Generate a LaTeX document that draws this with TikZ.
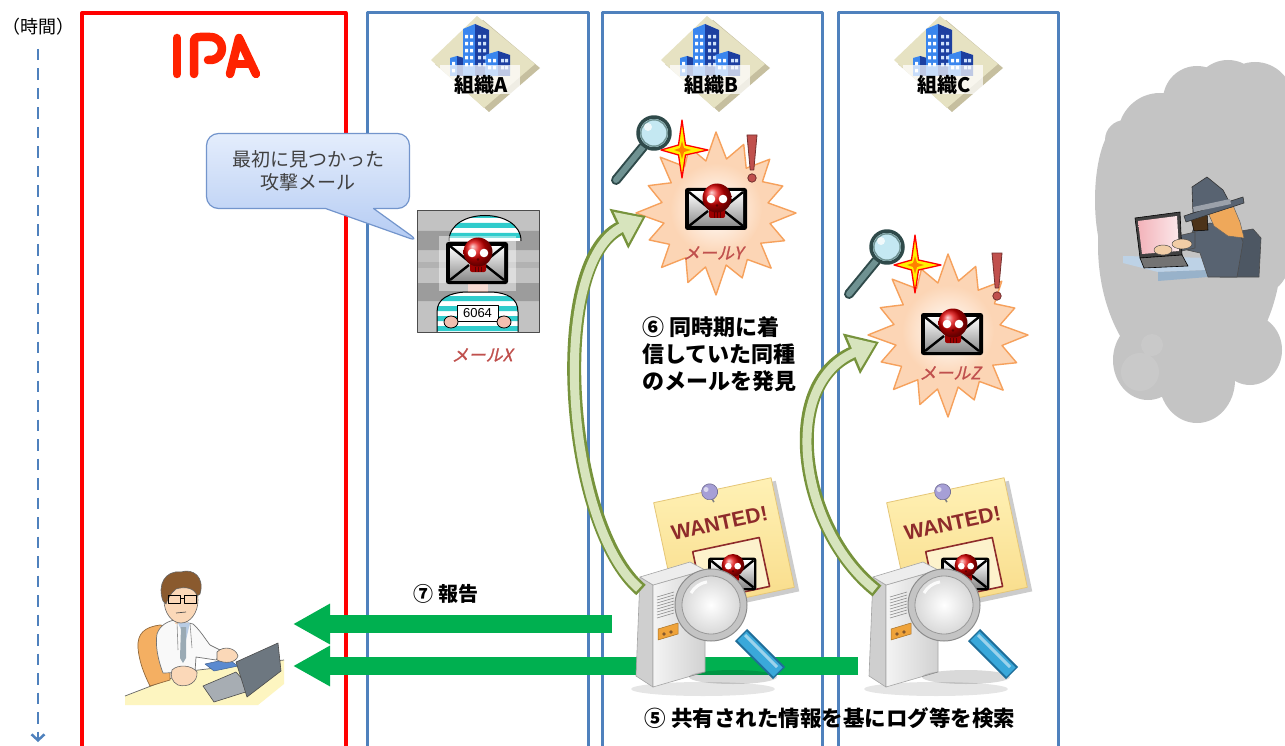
\documentclass[tikz,border=0pt]{standalone}
\usepackage{fontspec}
\newfontfamily\jp{Noto Sans CJK JP}
\newfontfamily\jpit{Noto Sans CJK JP}[FakeSlant=0.22,FakeBold=1.2]
\newfontfamily\lsans{Liberation Sans}
\usetikzlibrary{arrows.meta,shapes.callouts}
\newcommand\jsize[2]{\fontsize{#1}{#2}\selectfont}

\definecolor{ipared}{HTML}{FF0000}
\definecolor{logored}{HTML}{FF2200}
\definecolor{lane}{HTML}{4F81BD}
\definecolor{repgreen}{HTML}{00B050}
\definecolor{olivebd}{HTML}{77933C}
\definecolor{olivefill}{HTML}{D7E4BD}
\definecolor{peach}{HTML}{FCD5B5}
\definecolor{burst}{HTML}{F6A15C}
\definecolor{mailred}{HTML}{C0504D}
\definecolor{skullred}{HTML}{E00000}
\definecolor{exred}{HTML}{C0504D}
\definecolor{cloudgray}{HTML}{C4C4C4}
\definecolor{bubbletop}{HTML}{E4EDFC}
\definecolor{bubblebot}{HTML}{B4CBF3}
\definecolor{bubbleline}{HTML}{7395CC}
\definecolor{diamondbeige}{HTML}{E6E2C2}
\definecolor{diamondshade}{HTML}{B3AA80}
\definecolor{bldlight}{HTML}{3A86EE}
\definecolor{blddark}{HTML}{1C3FA0}
\definecolor{magdark}{HTML}{2F4A4A}
\definecolor{maghandle}{HTML}{6F9292}
\definecolor{lensblue}{HTML}{C4E8F2}
\definecolor{posterA}{HTML}{FFF1B5}
\definecolor{posterB}{HTML}{F8DB88}
\definecolor{posterline}{HTML}{E5C677}
\definecolor{wantedred}{HTML}{8E2B2B}
\definecolor{framefill}{HTML}{FDF2CC}
\definecolor{pinpurple}{HTML}{A69FD6}
\definecolor{srvtop}{HTML}{EDEDED}
\definecolor{srvleft}{HTML}{CFCFCF}
\definecolor{srvfront}{HTML}{F4F4F4}
\definecolor{srvline}{HTML}{A5A5A5}
\definecolor{srvorange}{HTML}{EFA33A}
\definecolor{rimgray}{HTML}{C4C4C4}
\definecolor{handleblue}{HTML}{3AA8DA}
\definecolor{handledark}{HTML}{1F6E99}
\definecolor{deskyel}{HTML}{FDF5C0}
\definecolor{chairor}{HTML}{F4AF62}
\definecolor{coatwhite}{HTML}{F9F9F9}
\definecolor{skin}{HTML}{FBD8B8}
\definecolor{hairbrown}{HTML}{8A5A2E}
\definecolor{tiegray}{HTML}{9AAAB4}
\definecolor{shirtblue}{HTML}{B9CCE4}
\definecolor{padblue}{HTML}{5B8AD0}
\definecolor{lapgray}{HTML}{6D7780}
\definecolor{hkdesk}{HTML}{BDD2E6}
\definecolor{hkdeskfront}{HTML}{98B2CA}
\definecolor{hkscreen}{HTML}{F3B3BA}
\definecolor{hkcoat}{HTML}{586371}
\definecolor{hkchair}{HTML}{4D5763}
\definecolor{hkhair}{HTML}{EFA85A}
\definecolor{hkskin}{HTML}{F1CDA6}
\definecolor{stripecyan}{HTML}{30CCCC}
\definecolor{grayA}{HTML}{C2C2C2}
\definecolor{grayB}{HTML}{9C9C9C}
\definecolor{prisskin}{HTML}{F2BFB0}

\tikzset{
  lanebox/.style={lane, line width=3pt},
  iparect/.style={ipared, line width=3.3pt},
  greenarrow/.style={repgreen, line width=18pt, -{Triangle[length=37pt,width=38pt]}},
  curveout/.style={olivebd, line width=14pt, -{Triangle[length=30pt,width=42pt]}},
  curvein/.style={olivefill, line width=9pt, shorten >=3.5pt, shorten <=2.5pt, -{Triangle[length=24pt,width=33pt]}},
  bigtext/.style={font=\jp\bfseries\jsize{22}{22}, inner sep=0pt},
  maillabel/.style={font=\jpit\jsize{17}{17}, text=mailred},
  % envelope with a red skull on it, centred on the envelope
  skullmail/.pic={
    \fill[black, rounded corners=2.5pt] (-31,-21) rectangle (31,21);
    \shade[top color=white, bottom color=black!45] (-27,-17) rectangle (27,17);
    \draw[black, line width=2.4pt] (-27,-17) -- (0,5) -- (27,-17);
    \draw[black, line width=2.4pt] (-27,17) -- (-8,2) (27,17) -- (8,2);
    \fill[skullred!70!black, rounded corners=2pt] (-7,-3) rectangle (9,9);
    \shade[ball color=skullred] (1,-11) circle (14.5);
    \fill[white] (-5,-10) circle (4.3) (7,-10) circle (4.3);
    \fill[skullred!40!black] (1,-3.5) circle (1.4);
    \draw[skullred!40!black, line width=0.7pt] (-2,3.5) -- (-2,9) (1,3.5) -- (1,9) (4,3.5) -- (4,9);
  },
  starburst/.pic={
    \filldraw[fill=peach, draw=burst, line width=1.4pt]
      (0:80) -- (11:55) -- (22:74) -- (34:54) -- (45:78) -- (56:56) -- (68:70) -- (79:53)
      -- (90:82) -- (101:55) -- (112:75) -- (124:54) -- (135:77) -- (146:56) -- (158:72) -- (169:53)
      -- (180:80) -- (191:55) -- (202:73) -- (214:54) -- (225:79) -- (236:56) -- (248:71) -- (259:53)
      -- (270:81) -- (281:55) -- (292:74) -- (304:54) -- (315:76) -- (326:56) -- (338:72) -- (349:53) -- cycle;
    \shade[inner color=white, outer color=peach] (0,-4) circle (46);
  },
  magsmall/.pic={
    \draw[line width=10pt, magdark, line cap=round] (-11,14) -- (-38,47);
    \draw[line width=6pt, maghandle, line cap=round] (-11,14) -- (-38,47);
    \filldraw[fill=lensblue, draw=magdark, line width=3.5pt] (0,0) circle (16);
    \draw[maghandle, line width=1.4pt] (0,0) circle (13.2);
    \fill[white, opacity=0.75] (-6,-6) circle (4);
  },
  sparkle/.pic={
    \filldraw[fill=yellow, draw=red, line width=1.3pt]
      (0,-30) -- (3.5,-5) -- (26,0) -- (3.5,5) -- (0,28) -- (-3.5,5) -- (-21,0) -- (-3.5,-5) -- cycle;
    \fill[orange] (0,-9) -- (2,-2) -- (9,0) -- (2,2) -- (0,9) -- (-2,2) -- (-8,0) -- (-2,-2) -- cycle;
  },
  exclaim/.pic={
    \filldraw[fill=exred, draw=exred!60!black, line width=0.8pt] (-5,-23) -- (5,-23) -- (1.8,12) -- (-1.8,12) -- cycle;
    \filldraw[fill=exred, draw=exred!60!black, line width=0.8pt] (0,20) circle (4.2);
  },
  pics/building/.style={code={
    \fill[diamondshade, opacity=0.75] (2,-66) -- (59,-18) -- (8,26) -- (-46,-22) -- cycle;
    \fill[diamondbeige] (-4,-70) -- (54,-22) -- (3,22) -- (-50,-26) -- cycle;
    \fill[bldlight] (-31,-28) -- (-24,-30) -- (-24,-10) -- (-31,-10) -- cycle;
    \fill[blddark] (-24,-30) -- (-17,-28) -- (-17,-10) -- (-24,-10) -- cycle;
    \fill[bldlight] (-18,-57) -- (-6,-62) -- (-6,-10) -- (-18,-10) -- cycle;
    \fill[blddark] (-6,-62) -- (8,-56) -- (8,-10) -- (-6,-10) -- cycle;
    \fill[bldlight] (4,-31) -- (17,-35) -- (17,-10) -- (4,-10) -- cycle;
    \fill[blddark] (17,-35) -- (29,-31) -- (29,-10) -- (17,-10) -- cycle;
    \foreach \wy in {-51,-44,-37,-30,-23} {
      \fill[white] (-16,\wy) rectangle ++(3,3.5) (-11,\wy) rectangle ++(3,3.5);
      \fill[white!75!bldlight] (-3,\wy) rectangle ++(3,3.5) (2,\wy) rectangle ++(3,3.5);
    }
    \foreach \wy in {-27,-20} {
      \fill[white] (7,\wy) rectangle ++(3,3.5) (12,\wy) rectangle ++(3,3.5);
      \fill[white!75!bldlight] (20,\wy) rectangle ++(3,3.5) (24,\wy) rectangle ++(3,3.5);
    }
    \fill[white] (-29,-24) rectangle ++(3,3.5) (-29,-17) rectangle ++(3,3.5);
    \fill[white, opacity=0.72] (-41,-21) rectangle (39,8);
    \node[font=\jp\bfseries\jsize{20}{20}] (-label) at (0,-1) {#1};
  }},
  % note pinned to the wall, drawn around its centre
  poster/.pic={
    \fill[black, opacity=0.2] (-56,-52) rectangle (64,61);
    \shade[top color=posterA, bottom color=posterB] (-60,-56) rectangle (60,56);
    \draw[posterline, line width=0.8pt] (-60,-56) rectangle (60,56);
    \node[font=\lsans\bfseries\jsize{21}{21}, text=wantedred, transform shape, inner sep=1pt] (-title) at (0,-22) {WANTED!};
    \filldraw[fill=framefill, draw=wantedred, line width=1.6pt] (-32,0) rectangle (36,50);
    \pic[scale=0.78] at (2,30) {skullmail};
    \draw[black!50, line width=1.5pt] (-3,-52) -- (-1,-44);
    \filldraw[fill=pinpurple, draw=pinpurple!70!black, line width=0.6pt] (-3,-55) circle (8);
    \fill[white, opacity=0.6] (-6,-58) circle (2.5);
  },
  % server tower with a large magnifier, origin at the lens centre
  server/.pic={
    \fill[black, opacity=0.1] (-8,84) ellipse (72 and 7);
    \filldraw[fill=srvleft, draw=srvline, line width=0.6pt] (-71,-28) -- (-58,-20) -- (-58,82) -- (-75,71) -- cycle;
    \shade[left color=srvfront, right color=black!18] (-58,-20) -- (-6,-35) -- (-6,67) -- (-58,82) -- cycle;
    \draw[srvline, line width=0.6pt] (-58,-20) -- (-6,-35) -- (-6,67) -- (-58,82) -- cycle;
    \filldraw[fill=srvtop, draw=srvline, line width=0.6pt] (-71,-28) -- (-21,-43) -- (-6,-35) -- (-58,-20) -- cycle;
    \foreach \vy in {-8,-5,-2,1,4,7,10,13} {
      \draw[black!45, line width=0.6pt] (-54,\vy) -- (-37,\vy-5);
    }
    \filldraw[fill=srvorange, draw=srvorange!70!black, line width=0.5pt] (-53,24) -- (-33,18) -- (-33,29) -- (-53,35) -- cycle;
    \fill[brown!70!black] (-47,29) circle (1.8) (-40,27) circle (1.8);
    \fill[black, opacity=0.15] (22,72) ellipse (44 and 7);
    \draw[line width=17pt, handledark] (30,30) -- (68,68);
    \draw[line width=13pt, handleblue] (31,31) -- (67,67);
    \draw[line width=3pt, white, opacity=0.5] (34,30) -- (66,62);
    \filldraw[fill=rimgray, draw=black!45, line width=1pt] (0,0) circle (36);
    \shade[inner color=white, outer color=black!15] (0,0) circle (29);
    \draw[black!40, line width=0.8pt] (0,0) circle (29);
    \draw[white, line width=3pt, opacity=0.9] (-20,-12) arc[start angle=210, end angle=260, radius=23];
  }
}

\begin{document}
\begin{tikzpicture}[x=1pt, y=-1pt, line join=round]
\path[use as bounding box] (0,0) rectangle (1285,746);
\clip (0,0) rectangle (1285,746);
\fill[white] (0,0) rectangle (1285,746);

% ---------- attacker's cloud ----------
\fill[cloudgray] (1190,245) ellipse (92 and 140) (1160,135) circle (42) (1197,100) circle (34)
  (1228,95) circle (35) (1255,100) circle (38) (1270,200) ellipse (30 and 90)
  (1250,350) ellipse (32 and 35) (1197,380) ellipse (38 and 43) (1148,360) ellipse (35 and 40)
  (1120,200) ellipse (25 and 75) (1125,140) circle (20);
\fill[black!21] (1140,372) circle (19) (1152,345) circle (11);

% attacker at a laptop
\fill[hkdesk] (1123,256) -- (1212,258) -- (1208,270) -- (1158,272) -- (1123,263) -- cycle;
\fill[hkdeskfront] (1158,272) -- (1208,270) -- (1208,277) -- (1158,281) -- cycle;
\filldraw[fill=hkchair, draw=black!70, line width=0.6pt] (1217,235) -- (1253,229) -- (1261,238) -- (1259,277) -- (1220,277) -- cycle;
\filldraw[fill=hkcoat, draw=black!70, line width=0.6pt] (1193,230) -- (1210,223) -- (1237,228) -- (1243,242) -- (1237,277) -- (1208,277) -- (1200,253) -- (1187,250) -- cycle;
\filldraw[fill=hkcoat, draw=black!70, line width=0.6pt] (1173,237) -- (1195,232) -- (1195,248) -- (1177,252) -- cycle;
\filldraw[fill=black!75, draw=black, line width=0.6pt] (1135,218) -- (1180,212) -- (1182,255) -- (1140,258) -- cycle;
\shade[left color=hkscreen, right color=hkscreen!30] (1138,221) -- (1177,216) -- (1179,251) -- (1142,254) -- cycle;
\filldraw[fill=black!55, draw=black, line width=0.6pt] (1140,258) -- (1182,255) -- (1188,266) -- (1144,268) -- cycle;
\filldraw[fill=hkskin, draw=black!70, line width=0.5pt] (1163,250) ellipse (9 and 5) (1182,244) ellipse (10 and 5);
\filldraw[fill=hkhair, draw=black!60, line width=0.5pt] (1204,204) -- (1232,203) -- (1240,222) -- (1244,238) -- (1228,236) -- (1214,226) -- cycle;
\filldraw[fill=black!60!brown, draw=black, line width=0.5pt] (1190,214) -- (1207,212) -- (1208,230) -- (1194,231) -- cycle;
\filldraw[fill=hkcoat, draw=black!80, line width=0.6pt] (1192,187) -- (1207,177) -- (1223,190) -- (1232,207) -- (1193,215) -- cycle;
\filldraw[fill=hkcoat, draw=black!80, line width=0.6pt] (1184,216) -- (1243,197) -- (1244,203) -- (1186,222) -- cycle;
\fill[hkcoat!60!white] (1193,207) -- (1230,199) -- (1231,204) -- (1194,212) -- cycle;

% ---------- swimlanes ----------
\draw[iparect] (82,760) -- (82,13) -- (346,13) -- (346,760);
\draw[lanebox] (367,760) -- (367,13) -- (588,13) -- (588,760);
\draw[lanebox] (602,760) -- (602,13) -- (822,13) -- (822,760);
\draw[lanebox] (838,760) -- (838,13) -- (1058,13) -- (1058,760);

% IPA logotype
\begin{scope}[logored, line width=8.5pt, line cap=round, line join=round]
  \draw (177,38) -- (177,74);
  \draw (194,74) -- (194,42) .. controls (194,38) and (196,37) .. (200,37) -- (210,37)
        .. controls (226,37) and (226,60) .. (210,60) -- (208,60);
  \draw (230,74) -- (239,38) -- (256,74);
  \draw (237,64) -- (249,64);
\end{scope}

% time axis
\node[font=\jp\jsize{18}{18}] (timelbl) at (38,27) {（時間）};
\coordinate (tstart) at (38,49);
\coordinate (tend) at (38,742);
\draw[lane, line width=2.5pt, dash pattern=on 11.5pt off 8pt, -{Straight Barb[length=6pt,width=13pt]}] (tstart) -- (tend);

% organisations
\pic (orgA) at (481,86) {building={組織A}};
\pic (orgB) at (711,86) {building={組織B}};
\pic (orgC) at (944,86) {building={組織C}};

% ---------- organisation A: first attack mail ----------
\fill[grayA] (417,210) rectangle (539,332);
\fill[grayB] (417,231) rectangle (539,250) (417,283) rectangle (539,301);
\fill[black!30] (417,262) rectangle (539,268);
\begin{scope}
  \clip (449,241) .. controls (449,207) and (521,207) .. (521,241) -- cycle;
  \fill[white] (440,205) rectangle (530,245);
  \fill[stripecyan] (440,213) rectangle (530,218) (440,223) rectangle (530,228) (440,233) rectangle (530,238);
\end{scope}
\draw[black, line width=1pt] (449,241) .. controls (449,207) and (521,207) .. (521,241);
\fill[prisskin] (468,282) rectangle (488,294);
\begin{scope}
  \clip (437,332) -- (437,312) .. controls (437,298) and (450,293) .. (465,292) -- (492,292)
        .. controls (507,293) and (518,298) .. (518,312) -- (518,332) -- cycle;
  \fill[white] (430,288) rectangle (525,335);
  \fill[stripecyan] (430,296) rectangle (525,301) (430,306) rectangle (525,311) (430,316) rectangle (525,321) (430,326) rectangle (525,331);
\end{scope}
\draw[black, line width=1pt] (437,332) -- (437,312) .. controls (437,298) and (450,293) .. (465,292) -- (492,292)
        .. controls (507,293) and (518,298) .. (518,312) -- (518,332);
\fill[white, opacity=0.45] (439,236) rectangle (516,291);
\pic at (477,263) {skullmail};
\filldraw[fill=white, draw=black, line width=1pt] (457,305) rectangle (498,321);
\node[font=\lsans\jsize{13}{13}, inner sep=0pt] (tag) at (477.5,313.5) {6064};
\filldraw[fill=prisskin, draw=black, line width=0.8pt] (451,322) ellipse (7 and 6) (504,322) ellipse (7 and 6);
\draw[black!70, line width=0.8pt] (417,210) rectangle (539,332);
\node[maillabel] (labelX) at (482,355) {メールX};

\node[rectangle callout, callout absolute pointer={(420,242)}, callout pointer width=48pt,
      rounded corners=12pt, minimum width=203pt, minimum height=75pt,
      top color=bubbletop, bottom color=bubblebot, draw=bubbleline, line width=1.2pt,
      font=\jp\jsize{19}{23}, text=black!75, align=center] (bubble) at (308,171) {最初に見つかった\\攻撃メール};

% ---------- organisation B: mail Y ----------
\pic (burstY) at (716,213) {starburst};
\pic at (716,209) {skullmail};
\node[maillabel] (labelY) at (713,253) {メールY};
\pic at (654,133) {magsmall};
\pic at (682,150) {sparkle};
\pic at (752,158) {exclaim};
\coordinate (mailY) at (646,216);

\node[bigtext, anchor=west] (found1) at (642,327) {⑥ 同時期に着};
\node[bigtext, anchor=west] (found2) at (642,354) {信していた同種};
\node[bigtext, anchor=west] (found3) at (642,381) {のメールを発見};

% ---------- organisation C: mail Z ----------
\pic (burstZ) at (948,335) {starburst};
\pic at (952,334) {skullmail};
\node[maillabel] (labelZ) at (950,373) {メールZ};
\pic at (887,247) {magsmall};
\pic at (915,265) {sparkle};
\pic at (997,276) {exclaim};
\coordinate (mailZ) at (879,342);

% ---------- reports to IPA ----------
\coordinate (repB) at (612,624);
\coordinate (ipaB) at (293,624);
\coordinate (repC) at (858,666);
\coordinate (ipaC) at (293,666);
\draw[greenarrow] (repB) -- (ipaB);
\draw[greenarrow] (repC) -- (ipaC);
\node[font=\jp\bfseries\jsize{20}{20}] (report) at (446,594) {⑦ 報告};

% ---------- log searches ----------
\pic[rotate=12] (wantedB) at (724,545) {poster};
\pic[rotate=12] (wantedC) at (957,545) {poster};
\pic (srvB) at (711,605) {server};
\pic (srvC) at (944,605) {server};

\coordinate (tailB) at (641,590);
\coordinate (tailC) at (877,591);
\draw[curveout] (tailB) .. controls (565,525) and (548,262) .. (mailY);
\draw[curvein] (tailB) .. controls (565,525) and (548,262) .. (mailY);
\draw[curveout] (tailC) .. controls (800,530) and (778,385) .. (mailZ);
\draw[curvein] (tailC) .. controls (800,530) and (778,385) .. (mailZ);

\node[font=\jp\bfseries\jsize{21.5}{21.5}] (search) at (830,718) {⑤ 共有された情報を基にログ等を検索};

% ---------- IPA analyst at a desk ----------
\fill[deskyel] (125,696) -- (190,671) -- (284,660) -- (284,684) -- (258,705) -- (125,705) -- cycle;
\draw[black!60, line width=0.7pt] (125,696) -- (190,671) -- (284,660);
\filldraw[fill=chairor, draw=chairor!60!black, line width=0.7pt]
  (138,648) .. controls (137,633) and (145,627) .. (160,625) -- (170,627) -- (170,680) -- (150,686)
  .. controls (143,672) and (139,660) .. (138,648) -- cycle;
\filldraw[fill=coatwhite, draw=black!55, line width=0.7pt]
  (157,634) .. controls (160,625) and (168,621) .. (175,620) -- (193,624)
  .. controls (200,630) and (206,640) .. (210,645) -- (222,651) -- (216,660) -- (196,657) -- (195,672)
  -- (163,673) .. controls (158,660) and (155,645) .. (157,634) -- cycle;
\fill[skin] (175,612) rectangle (188,624);
\fill[shirtblue] (177,621) -- (190,623) -- (186,640) -- cycle;
\fill[tiegray] (181,627) -- (186,627) -- (186,658) -- (183,663) -- (180,658) -- cycle;
\draw[black!45, line width=0.6pt] (177,621) -- (178,650) (190,623) -- (192,648);
\filldraw[fill=padblue, draw=padblue!70!black, line width=0.5pt] (205,664) -- (228,659) -- (238,666) -- (214,671) -- cycle;
\filldraw[fill=skin, draw=black!60, line width=0.6pt]
  (217,652) .. controls (224,645) and (236,648) .. (238,656) .. controls (236,663) and (225,664) .. (217,660) -- cycle;
\filldraw[fill=skin, draw=black!60, line width=0.6pt]
  (172,670) .. controls (178,664) and (192,665) .. (197,672) .. controls (198,682) and (188,688) .. (178,685)
  .. controls (172,682) and (170,676) .. (172,670) -- cycle;
\filldraw[fill=skin, draw=black!60, line width=0.6pt] (181,600) ellipse (17 and 23);
\filldraw[fill=hairbrown, draw=black!60, line width=0.6pt]
  (163,601) .. controls (157,585) and (165,570) .. (181,572) .. controls (193,568) and (205,577) .. (200,594)
  -- (197,596) .. controls (195,588) and (185,586) .. (176,589) .. controls (171,593) and (168,598) .. (166,604) -- cycle;
\draw[black, line width=1pt] (168,595) rectangle (180,603) (184,595) rectangle (196,603) (180,598) -- (184,598);
\draw[black!70, line width=0.7pt] (176,613) -- (186,612);
\filldraw[fill=lapgray!60, draw=black!70, line width=0.6pt] (203,686) -- (236,672) -- (252,690) -- (214,702) -- cycle;
\filldraw[fill=lapgray, draw=black!70, line width=0.6pt] (236,662) -- (278,643) -- (281,671) -- (247,697) -- cycle;
\end{tikzpicture}
\end{document}
